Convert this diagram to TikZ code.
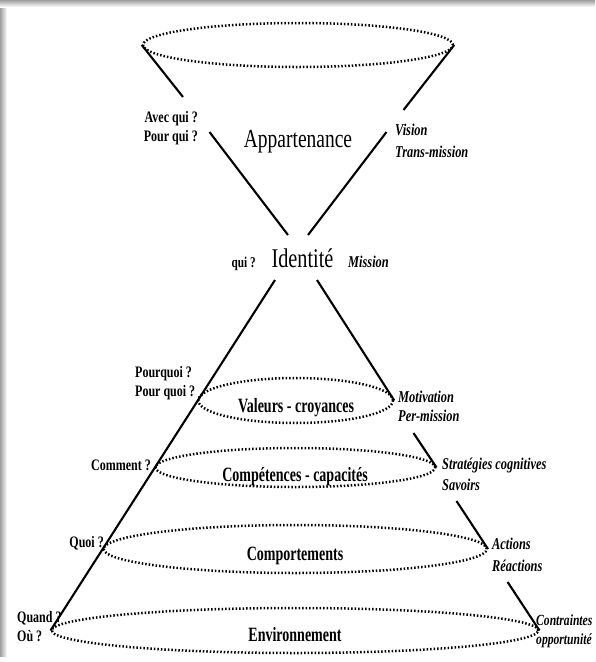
\documentclass[tikz,border=0pt]{standalone}
\usepackage{fontspec}
\setmainfont{Liberation Serif}[FakeStretch=0.75]
\newfontfamily\levelfont{Liberation Serif}[FakeStretch=0.69]
\usetikzlibrary{shapes.geometric}
\begin{document}
\begin{tikzpicture}[x=1pt,y=-1pt,
  ring/.style={ellipse, draw, line width=2.5pt, line cap=butt,
               dash pattern=on 1.5pt off 2pt, inner sep=0pt},
  cone/.style={line width=2.1pt},
  level/.style={inner sep=0pt, font=\levelfont\bfseries\fontsize{20.3}{24}\selectfont},
  title/.style={inner sep=0pt},
  ask/.style={inner sep=0pt, font=\bfseries\fontsize{16}{19}\selectfont},
  role/.style={inner sep=0pt, font=\bfseries\itshape\fontsize{16.5}{20}\selectfont},
]
\useasboundingbox (0,0) rectangle (595,662);

% soft frame shadow along the top and left edges
\shade[left color=black!38, right color=white] (0,0) rectangle (7,656);
\shade[top color=black!38, bottom color=white] (0,0) rectangle (595,7);

% ---------- upper cone ----------
\node[ring, minimum width=310pt, minimum height=44pt] (top) at (298,45) {};
\coordinate (tl1) at (183,97);
\coordinate (tl2) at (209.5,132);
\coordinate (tl3) at (288,235);
\coordinate (tr1) at (403.5,110);
\coordinate (tr2) at (386.5,132);
\coordinate (tr3) at (308,235);
\draw[cone] (top.west) -- (tl1);
\draw[cone] (tl2) -- (tl3);
\draw[cone] (top.east) -- (tr1);
\draw[cone] (tr2) -- (tr3);

% ---------- lower cone: cross-sections ----------
\node[ring, minimum width=194.8pt, minimum height=45pt] (val)  at (295.6,400.5) {};
\node[ring, minimum width=279.7pt, minimum height=39pt] (comp) at (295.4,467.5) {};
\node[ring, minimum width=383.1pt, minimum height=48pt] (beh)  at (295.2,549) {};
\node[ring, minimum width=486.5pt, minimum height=45pt] (env)  at (295,630.5) {};

\coordinate (lt) at (275,280);
\coordinate (rt) at (317,280);
\coordinate (r1) at (413.5,433);
\coordinate (r2) at (456.5,501);
\coordinate (r3) at (507.6,582);
\draw[cone] (lt) -- (env.west);
\draw[cone] (rt) -- (val.east);
\draw[cone] (r1) -- (comp.east);
\draw[cone] (r2) -- (beh.east);
\draw[cone] (r3) -- (env.east);

% ---------- level names ----------
\node[title, font=\fontsize{26}{30}\selectfont, anchor=base] (appart) at (298,147) {Appartenance};
\node[title, font=\fontsize{27}{30}\selectfont, anchor=base] (ident) at (302.5,267) {Identité};
\node[level, anchor=base] (valt)   at (296,412) {Valeurs - croyances};
\node[level, anchor=base] (compt)  at (295,481) {Compétences - capacités};
\node[level, anchor=base] (behave) at (295,560) {Comportements};
\node[level, anchor=base] (envt)   at (295,641) {Environnement};

% ---------- questions (left) ----------
\node[ask, anchor=base east] (avec)    at (198,122) {Avec qui ?};
\node[ask, anchor=base east] (pourqui) at (198,141) {Pour qui ?};
\node[ask, font=\bfseries\fontsize{15}{18}\selectfont, anchor=base east] (qui) at (256,267) {qui ?};
\node[ask, anchor=base west] (pq1)     at (135,377) {Pourquoi ?};
\node[ask, anchor=base west] (pq2)     at (135,396) {Pour quoi ?};
\node[ask, anchor=base east] (comment) at (151,470) {Comment ?};
\node[ask, anchor=base east] (quoi)    at (104,547) {Quoi ?};
\node[ask, anchor=base west] (quand)   at (17,622) {Quand ?};
\node[ask, anchor=base west] (ou)      at (17,641) {Où ?};

% ---------- roles (right) ----------
\node[role, anchor=base west] (vision)  at (395,135) {Vision};
\node[role, anchor=base west] (trans)   at (395,157) {Trans-mission};
\node[role, anchor=base west] (mission) at (348,267) {Mission};
\node[role, anchor=base west] (motiv)   at (398,402) {Motivation};
\node[role, anchor=base west] (perm)    at (398,421) {Per-mission};
\node[role, anchor=base west] (strat)   at (442,469) {Stratégies cognitives};
\node[role, anchor=base west] (savoirs) at (442,490) {Savoirs};
\node[role, anchor=base west] (actions) at (492,549) {Actions};
\node[role, anchor=base west] (react)   at (492,571) {Réactions};
\node[role, font=\bfseries\itshape\fontsize{15.5}{19}\selectfont, anchor=base west] (contr) at (536,625) {Contraintes};
\node[role, font=\bfseries\itshape\fontsize{15.5}{19}\selectfont, anchor=base west] (opp)   at (536,644) {opportunité};
\end{tikzpicture}
\end{document}
